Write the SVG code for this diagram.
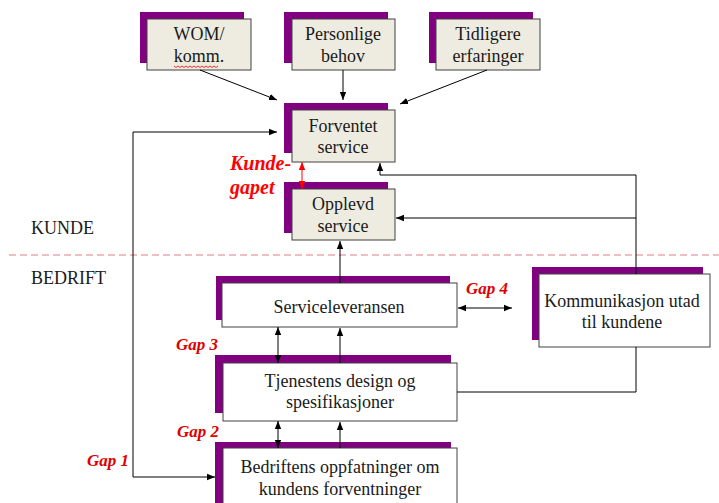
<svg xmlns="http://www.w3.org/2000/svg" width="719" height="503" viewBox="0 0 719 503">
<defs>
<style>
.sh{fill:#800080}
.bx{fill:#EEECE1;stroke:#404040;stroke-width:1}
.wb{fill:#ffffff;stroke:#404040;stroke-width:1}
.t{font-size:18px;fill:#1a1a1a;text-anchor:middle}
.lb{font-size:18px;fill:#1a1a1a}
.gap{font-size:17px;font-weight:bold;font-style:italic;fill:#E00000}
.kg{font-size:20px;font-weight:bold;font-style:italic;fill:#FF0000}
.c{fill:none;stroke:#000;stroke-width:1}
</style>
<marker id="a" viewBox="0 0 10 10" refX="10" refY="5" markerWidth="8" markerHeight="8" markerUnits="userSpaceOnUse" orient="auto-start-reverse"><path d="M0,1 L10,5 L0,9 Z" fill="#000"/></marker>
<marker id="r" viewBox="0 0 10 10" refX="10" refY="5" markerWidth="8" markerHeight="8" markerUnits="userSpaceOnUse" orient="auto-start-reverse"><path d="M0,1 L10,5 L0,9 Z" fill="#FF0000"/></marker>
</defs>
<rect width="719" height="503" fill="#ffffff"/>
<line x1="9" y1="255" x2="719" y2="255" stroke="#E08080" stroke-width="1" stroke-dasharray="7,4"/>
<text class="lb" font-family="Liberation Serif" x="31" y="234">KUNDE</text>
<text class="lb" font-family="Liberation Serif" x="31" y="284">BEDRIFT</text>

<g id="wom">
<rect class="sh" x="140" y="12" width="104" height="51"/>
<rect class="bx" x="147" y="19" width="104" height="51"/>
<text class="t" font-family="Liberation Serif" x="199" y="40">WOM/</text>
<text class="t" font-family="Liberation Serif" x="199" y="62">komm.</text>
<path d="M174,66 l2,1.5 l2,-1.5 l2,1.5 l2,-1.5 l2,1.5 l2,-1.5 l2,1.5 l2,-1.5 l2,1.5 l2,-1.5 l2,1.5 l2,-1.5 l2,1.5 l2,-1.5 l2,1.5 l2,-1.5 l2,1.5 l2,-1.5 l2,1.5 l2,-1.5 l2,1.5 l2,-1.5" fill="none" stroke="#FF0000" stroke-width="0.8"/>
</g>
<g id="personlige">
<rect class="sh" x="284" y="12" width="104" height="51"/>
<rect class="bx" x="292" y="19" width="103" height="51"/>
<text class="t" font-family="Liberation Serif" x="343" y="40">Personlige</text>
<text class="t" font-family="Liberation Serif" x="343" y="62">behov</text>
</g>
<g id="tidligere">
<rect class="sh" x="429" y="12" width="104" height="51"/>
<rect class="bx" x="436" y="19" width="104" height="51"/>
<text class="t" font-family="Liberation Serif" x="488" y="40">Tidligere</text>
<text class="t" font-family="Liberation Serif" x="488" y="62">erfaringer</text>
</g>
<g id="forventet">
<rect class="sh" x="284" y="103" width="104" height="50"/>
<rect class="bx" x="292" y="110" width="103" height="52"/>
<text class="t" font-family="Liberation Serif" x="343" y="132">Forventet</text>
<text class="t" font-family="Liberation Serif" x="343" y="153">service</text>
</g>
<g id="opplevd">
<rect class="sh" x="284" y="182" width="104" height="51"/>
<rect class="bx" x="292" y="189" width="103" height="51"/>
<text class="t" font-family="Liberation Serif" x="343" y="210">Opplevd</text>
<text class="t" font-family="Liberation Serif" x="343" y="232">service</text>
</g>
<g id="serviceleveransen">
<rect class="sh" x="216" y="276" width="234" height="44"/>
<rect class="wb" x="222" y="283" width="235" height="44"/>
<text class="t" font-family="Liberation Serif" x="339" y="313">Serviceleveransen</text>
</g>
<g id="kommunikasjon">
<rect class="sh" x="532" y="267" width="171" height="73"/>
<rect class="wb" x="539" y="274" width="171" height="73"/>
<text class="t" font-family="Liberation Serif" x="622" y="307">Kommunikasjon utad</text>
<text class="t" font-family="Liberation Serif" x="622" y="328">til kundene</text>
</g>
<g id="tjenestens">
<rect class="sh" x="215" y="355" width="236" height="58"/>
<rect class="wb" x="223" y="363" width="234" height="58"/>
<text class="t" font-family="Liberation Serif" x="340" y="387">Tjenestens design og</text>
<text class="t" font-family="Liberation Serif" x="340" y="408">spesifikasjoner</text>
</g>
<g id="bedriftens">
<rect class="sh" x="215" y="442" width="236" height="70"/>
<rect class="wb" x="223" y="448" width="234" height="70"/>
<text class="t" font-family="Liberation Serif" x="340" y="473">Bedriftens oppfatninger om</text>
<text class="t" font-family="Liberation Serif" x="340" y="495">kundens forventninger</text>
</g>

<g id="connectors">
<line class="c" x1="200" y1="70" x2="277" y2="100" marker-end="url(#a)"/>
<line class="c" x1="343" y1="70" x2="343" y2="100" marker-end="url(#a)"/>
<line class="c" x1="487" y1="70" x2="400" y2="104" marker-end="url(#a)"/>
<path class="c" d="M215,477 H133 V132 H277" marker-start="url(#a)" marker-end="url(#a)"/>
<line x1="302" y1="162" x2="302" y2="189" stroke="#FF0000" stroke-width="1" marker-start="url(#r)" marker-end="url(#r)"/>
<path class="c" d="M636,274 V175 H380 V163" marker-end="url(#a)"/>
<line class="c" x1="636" y1="218" x2="396" y2="218" marker-end="url(#a)"/>
<path class="c" d="M457,392 H636 V347"/>
<line class="c" x1="340" y1="283" x2="340" y2="241" marker-end="url(#a)"/>
<line class="c" x1="458" y1="308" x2="512" y2="308" marker-start="url(#a)" marker-end="url(#a)"/>
<line class="c" x1="278" y1="327" x2="278" y2="363" marker-start="url(#a)" marker-end="url(#a)"/>
<line class="c" x1="340" y1="363" x2="340" y2="328" marker-end="url(#a)"/>
<line class="c" x1="278" y1="421" x2="278" y2="448" marker-start="url(#a)" marker-end="url(#a)"/>
<line class="c" x1="340" y1="448" x2="340" y2="422" marker-end="url(#a)"/>
</g>

<text class="kg" font-family="Liberation Serif" x="230" y="170">Kunde-</text>
<text class="kg" font-family="Liberation Serif" x="230" y="194">gapet</text>
<text class="gap" font-family="Liberation Serif" x="466" y="294">Gap 4</text>
<text class="gap" font-family="Liberation Serif" x="176" y="350">Gap 3</text>
<text class="gap" font-family="Liberation Serif" x="177" y="437">Gap 2</text>
<text class="gap" font-family="Liberation Serif" x="87" y="466">Gap 1</text>
</svg>
